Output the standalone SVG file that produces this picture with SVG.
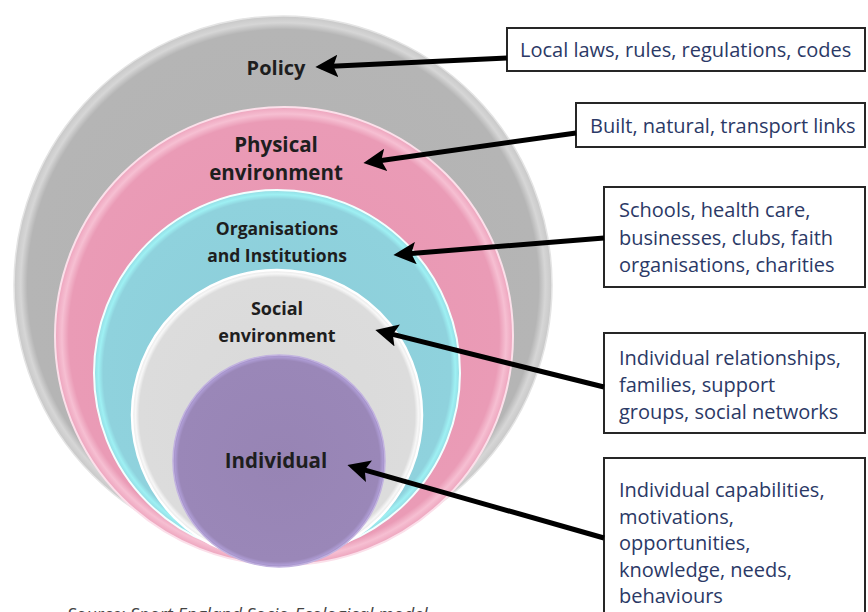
<svg xmlns="http://www.w3.org/2000/svg" width="868" height="612" viewBox="0 0 868 612">
<style>
.lbl{font-family:"Open Sans","Liberation Sans",sans-serif;font-weight:bold;fill:#1e1e1e;text-anchor:middle}
.box{fill:#ffffff;stroke:#262626;stroke-width:2}
.btx{font-family:"Open Sans","Liberation Sans",sans-serif;font-size:20px;fill:#2b3966}
.con{stroke:#000;stroke-width:5;fill:none;marker-end:url(#ah)}
.src{font-family:"Open Sans","Liberation Sans",sans-serif;font-style:italic;font-size:18px;fill:#444}
</style>
<defs>
<marker id="ah" viewBox="0 0 10 10" refX="7.5" refY="5" markerWidth="4.5" markerHeight="4.5" orient="auto" markerUnits="strokeWidth">
<path d="M0,0 L10,5 L0,10 L2,5 z" fill="#000"/>
</marker>
<radialGradient id="gGrey"><stop offset="0" stop-color="#b2b2b2"/><stop offset="0.95" stop-color="#b5b5b5"/><stop offset="0.975" stop-color="#d6d6d6"/><stop offset="1" stop-color="#c8c8c8"/></radialGradient>
<radialGradient id="gPink"><stop offset="0" stop-color="#e995b1"/><stop offset="0.94" stop-color="#ea9bb6"/><stop offset="0.97" stop-color="#f6bfd2"/><stop offset="1" stop-color="#eda4bd"/></radialGradient>
<radialGradient id="gCyan"><stop offset="0" stop-color="#8ccdd9"/><stop offset="0.95" stop-color="#8fd2dd"/><stop offset="0.975" stop-color="#9ef0f3"/><stop offset="1" stop-color="#94dbe3"/></radialGradient>
<radialGradient id="gSoc"><stop offset="0" stop-color="#d9d9d9"/><stop offset="0.95" stop-color="#dcdcdc"/><stop offset="0.975" stop-color="#f7f7f7"/><stop offset="1" stop-color="#e6e6e6"/></radialGradient>
<radialGradient id="gPur"><stop offset="0" stop-color="#9784b4"/><stop offset="0.95" stop-color="#9a87b8"/><stop offset="0.98" stop-color="#ad9bd3"/><stop offset="1" stop-color="#a08dc2"/></radialGradient>
</defs>
<rect width="868" height="612" fill="#ffffff"/>

<g id="node-policy">
<circle cx="283" cy="285" r="269" fill="url(#gGrey)" stroke="#e4e4e4" stroke-width="1.5"/>
<text class="lbl" x="276" y="75" font-size="20">Policy</text>
</g>
<g id="node-physical">
<circle cx="284" cy="336" r="229" fill="url(#gPink)" stroke="#fbe0ea" stroke-width="2"/>
<text class="lbl" x="276" y="152" font-size="20.5" fill="#2a1822">Physical</text>
<text class="lbl" x="276" y="180" font-size="20.5" fill="#2a1822">environment</text>
</g>
<g id="node-organisations">
<circle cx="277" cy="373" r="183" fill="url(#gCyan)" stroke="#f2ffff" stroke-width="2"/>
<text class="lbl" x="277" y="235" font-size="17.5" fill="#1c2a30">Organisations</text>
<text class="lbl" x="277" y="262" font-size="17.5" fill="#1c2a30">and Institutions</text>
</g>
<g id="node-social">
<circle cx="277" cy="415" r="145" fill="url(#gSoc)" stroke="#ffffff" stroke-width="2.5"/>
<text class="lbl" x="277" y="315" font-size="18" fill="#222">Social</text>
<text class="lbl" x="277" y="342" font-size="18" fill="#222">environment</text>
</g>
<g id="node-individual">
<circle cx="279" cy="461" r="106" fill="url(#gPur)" stroke="#c2b3e0" stroke-width="1.5"/>
<text class="lbl" x="276" y="468" font-size="20.5" fill="#1a1420">Individual</text>
</g>

<g id="node-box-policy">
<rect class="box" x="507" y="28" width="358" height="43"/>
<text class="btx" x="520" y="57">Local laws, rules, regulations, codes</text>
</g>
<g id="node-box-physical">
<rect class="box" x="576" y="103" width="289" height="44"/>
<text class="btx" x="590" y="133">Built, natural, transport links</text>
</g>
<g id="node-box-organisations">
<rect class="box" x="604" y="187" width="261" height="100"/>
<text class="btx" x="619" y="217">Schools, health care,</text>
<text class="btx" x="619" y="244.5">businesses, clubs, faith</text>
<text class="btx" x="619" y="272">organisations, charities</text>
</g>
<g id="node-box-social">
<rect class="box" x="604" y="333" width="261" height="100"/>
<text class="btx" x="619" y="365">Individual relationships,</text>
<text class="btx" x="619" y="392">families, support</text>
<text class="btx" x="619" y="419">groups, social networks</text>
</g>
<g id="node-box-individual">
<rect class="box" x="604" y="458" width="261" height="170"/>
<text class="btx" x="619" y="497">Individual capabilities,</text>
<text class="btx" x="619" y="523.5">motivations,</text>
<text class="btx" x="619" y="550">opportunities,</text>
<text class="btx" x="619" y="576.5">knowledge, needs,</text>
<text class="btx" x="619" y="603">behaviours</text>
</g>

<g id="connectors">
<line class="con" x1="507" y1="58" x2="321" y2="66.7"/>
<line class="con" x1="576" y1="133" x2="369" y2="162.2"/>
<line class="con" x1="604" y1="238" x2="399" y2="254.5"/>
<line class="con" x1="604" y1="387" x2="380.8" y2="331.4"/>
<line class="con" x1="604" y1="538" x2="352.8" y2="466.6"/>
</g>

<text class="src" x="67" y="621">Source: Sport England Socio-Ecological model</text>
</svg>
